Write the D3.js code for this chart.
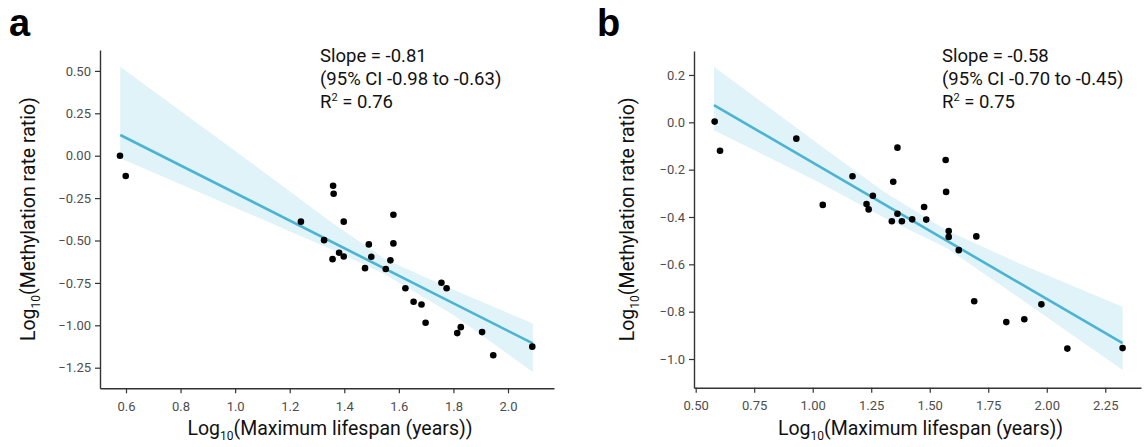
<!DOCTYPE html>
<html><head><meta charset="utf-8">
<script src="https://cdn.jsdelivr.net/npm/d3@7"></script>
<style>
body{margin:0;background:#fff}
svg{display:block}
text{font-family:Roboto,"Noto Sans",sans-serif}
</style>
</head><body>
<svg id="chart" width="1145" height="447"></svg>
<script>
// ---------- Panel a data ----------
const aLifespan = [0.578,0.599,1.241,1.359,1.361,1.398,1.326,1.381,1.357,1.398,1.490,1.499,1.476,1.552,1.569,1.580,1.580,1.624,1.654,1.683,1.698,1.756,1.775,1.814,1.827,1.905,1.946,2.089];
const aRate     = [0.000,-0.120,-0.389,-0.177,-0.224,-0.389,-0.498,-0.572,-0.610,-0.594,-0.523,-0.596,-0.663,-0.668,-0.617,-0.348,-0.517,-0.782,-0.861,-0.877,-0.985,-0.749,-0.782,-1.046,-1.011,-1.040,-1.177,-1.126];
const aFitX  = [0.579, 2.091];
const aFitY  = [0.122, -1.107];
const aBandX  = [0.579, 1.09, 1.35, 1.55, 1.80, 2.091];
const aBandHi = [0.525, -0.078, -0.39, -0.61, -0.79, -0.990];
const aBandLo = [-0.015, -0.369, -0.55, -0.70, -0.94, -1.275];
const aXTicks = [0.6,0.8,1.0,1.2,1.4,1.6,1.8,2.0];
const aYTicks = [0.5,0.25,0,-0.25,-0.5,-0.75,-1.0,-1.25];
const aNote = ["Slope = -0.81", "(95% CI -0.98 to -0.63)", "0.76"];

// ---------- Panel b data ----------
const bLifespan = [0.581,0.604,0.930,1.043,1.170,1.230,1.239,1.257,1.344,1.362,1.338,1.362,1.381,1.425,1.476,1.485,1.568,1.570,1.581,1.581,1.624,1.699,1.690,1.827,1.904,1.977,2.088,2.324];
const bRate     = [0.003,-0.120,-0.069,-0.349,-0.228,-0.345,-0.368,-0.310,-0.251,-0.107,-0.418,-0.386,-0.418,-0.410,-0.358,-0.411,-0.159,-0.294,-0.459,-0.484,-0.540,-0.482,-0.756,-0.844,-0.832,-0.769,-0.956,-0.954];
const bFitX  = [0.578, 2.324];
const bFitY  = [0.073, -0.933];
const bBandX  = [0.578, 1.03, 1.30, 1.57, 1.88, 2.324];
const bBandHi = [0.235, -0.096, -0.29, -0.455, -0.595, -0.779];
const bBandLo = [-0.033, -0.255, -0.40, -0.53, -0.74, -1.046];
const bXTicks = [0.5,0.75,1.0,1.25,1.5,1.75,2.0,2.25];
const bYTicks = [0.2,0,-0.2,-0.4,-0.6,-0.8,-1.0];
const bNote = ["Slope = -0.58", "(95% CI -0.70 to -0.45)", "0.75"];

const svg = d3.select("#chart");
const LINE = "#4bb4d3", BAND = "#e0f3f9", AXIS = "#333333", TICKTXT = "#4d4d4d";

function panel(cfg){
  const x = d3.scaleLinear().domain(cfg.xDom).range([cfg.left, cfg.right]);
  const y = d3.scaleLinear().domain(cfg.yDom).range([cfg.bottom, cfg.top]);
  const g = svg.append("g");

  const band = cfg.bandX.map((v,i)=>({x:v, lo:cfg.bandLo[i], hi:cfg.bandHi[i]}));
  g.append("path").datum(band)
    .attr("fill", BAND)
    .attr("d", d3.area().x(d=>x(d.x)).y0(d=>y(d.lo)).y1(d=>y(d.hi)));

  const fit = cfg.fitX.map((v,i)=>({x:v, y:cfg.fitY[i]}));
  g.append("path").datum(fit)
    .attr("fill","none").attr("stroke", LINE).attr("stroke-width", 2.6)
    .attr("d", d3.line().x(d=>x(d.x)).y(d=>y(d.y)));

  g.selectAll("circle.pt").data(cfg.px.map((v,i)=>({x:v,y:cfg.py[i]})))
    .join("circle").attr("class","pt")
    .attr("cx", d=>x(d.x)).attr("cy", d=>y(d.y)).attr("r", 3.3).attr("fill","#000");

  const xa = g.append("g").attr("transform", `translate(0,${cfg.bottom})`)
    .call(d3.axisBottom(x).tickValues(cfg.xTicks).tickSize(5).tickSizeOuter(0).tickPadding(8)
      .tickFormat(d3.format(cfg.xFmt)));
  const ya = g.append("g").attr("transform", `translate(${cfg.left},0)`)
    .call(d3.axisLeft(y).tickValues(cfg.yTicks).tickSize(5).tickSizeOuter(0).tickPadding(4)
      .tickFormat(d=>d3.format(cfg.yFmt)(d).replace("-","\u2212")));
  [xa, ya].forEach(a=>{
    a.select(".domain").attr("stroke", AXIS).attr("stroke-width", 1.4);
    a.selectAll(".tick line").attr("stroke", AXIS).attr("stroke-width", 1.2);
    a.selectAll(".tick text").attr("fill", TICKTXT).style("font-size","13px").style("font-family","Roboto, sans-serif");
  });

  // axis titles
  const xt = g.append("text").attr("x", (cfg.left+cfg.right)/2 + 3).attr("y", 435)
    .attr("text-anchor","middle").attr("fill","#111").style("font-size","19.5px");
  xt.append("tspan").text("Log");
  xt.append("tspan").text("10").style("font-size","12px").attr("dy", 5);
  xt.append("tspan").text("(Maximum lifespan (years))").attr("dy", -5);

  const cy = (cfg.top+cfg.bottom)/2;
  const yt = g.append("text").attr("transform", `translate(${cfg.ylabX},${cy}) rotate(-90)`)
    .attr("text-anchor","middle").attr("fill","#111").style("font-size","19.5px");
  yt.append("tspan").text("Log");
  yt.append("tspan").text("10").style("font-size","12px").attr("dy", 5);
  yt.append("tspan").text("(Methylation rate ratio)").attr("dy", -5);

  // annotation
  const nt = g.append("g").attr("fill","#111").style("font-size","18.5px");
  nt.append("text").attr("x", cfg.noteX).attr("y", 62).text(cfg.note[0]);
  nt.append("text").attr("x", cfg.noteX).attr("y", 85).text(cfg.note[1]);
  const r = nt.append("text").attr("x", cfg.noteX).attr("y", 108);
  r.append("tspan").text("R");
  r.append("tspan").text("2").style("font-size","11px").attr("dy", -7);
  r.append("tspan").text(" = " + cfg.note[2]).attr("dy", 7);

  // panel letter
  svg.append("text").attr("x", cfg.letterX).attr("y", 36)
    .style("font-family","'Liberation Sans', Arial, sans-serif").style("font-weight","bold")
    .style("font-size","38px").attr("fill","#000").text(cfg.letter);
}

panel({letter:"a", letterX:9, left:100, right:554, top:50, bottom:388.3,
  xDom:[0.5047, 2.1686], yDom:[-1.3715, 0.6232],
  px:aLifespan, py:aRate, fitX:aFitX, fitY:aFitY,
  bandX:aBandX, bandHi:aBandHi, bandLo:aBandLo,
  xTicks:aXTicks, yTicks:aYTicks, xFmt:".1f", yFmt:".2f",
  ylabX:35, noteX:320, note:aNote});

panel({letter:"b", letterX:597, left:694, right:1141, top:51, bottom:387.7,
  xDom:[0.4928, 2.4026], yDom:[-1.1212, 0.3013],
  px:bLifespan, py:bRate, fitX:bFitX, fitY:bFitY,
  bandX:bBandX, bandHi:bBandHi, bandLo:bBandLo,
  xTicks:bXTicks, yTicks:bYTicks, xFmt:".2f", yFmt:".1f",
  ylabX:634, noteX:942, note:bNote});
</script>
</body></html>
